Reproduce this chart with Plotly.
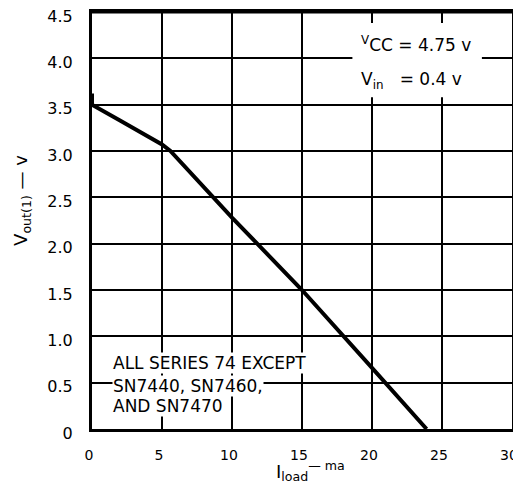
import plotly.graph_objects as go

# Data
i_load = [0, 0, 2, 4, 5, 5.6, 7, 8.6, 10, 11.8, 15, 20, 23.9]
v_out = [3.62, 3.5, 3.33, 3.16, 3.07, 3.0, 2.77, 2.5, 2.28, 2.0, 1.5, 0.66, 0]

x_ticks = [0, 5, 10, 15, 20, 25, 30]
y_ticks = [0, 0.5, 1.0, 1.5, 2.0, 2.5, 3.0, 3.5, 4.0, 4.5]
y_ticktext = ["0", "0.5", "1.0", "1.5", "2.0", "2.5", "3.0", "3.5", "4.0", "4.5"]

note_lines = ["ALL SERIES 74 EXCEPT", "SN7440, SN7460,", "AND SN7470"]

FONT = "DejaVu Sans"

fig = go.Figure()
fig.add_trace(go.Scatter(
    x=i_load, y=v_out, mode="lines",
    line=dict(color="black", width=4),
    cliponaxis=False, showlegend=False, hoverinfo="skip",
))

fig.update_xaxes(
    range=[0, 30], tickvals=x_ticks, showgrid=True, gridcolor="black", gridwidth=1.5,
    zeroline=False, showline=True, linecolor="black", linewidth=3, mirror=True,
    ticks="", ticklabelstandoff=11, ticklabelshift=-3, automargin=False,
    ticklabeloverflow="allow",
    tickfont=dict(family=FONT, size=14, color="black"),
)
fig.update_yaxes(
    range=[0, 4.5], tickvals=y_ticks, ticktext=y_ticktext, showgrid=True,
    gridcolor="black", gridwidth=1.5, zeroline=False,
    showline=True, linecolor="black", linewidth=3, mirror=True, ticks="",
    ticklabelstandoff=13, ticklabelshift=4, automargin=False, ticklabeloverflow="allow",
    tickfont=dict(family=FONT, size=16, color="black"),
)

shapes = [
    # top edge of the frame
    dict(type="line", xref="paper", yref="paper", x0=0, x1=1, y0=1, y1=1,
         line=dict(color="black", width=3), layer="above"),
    # white panel behind the conditions text
    dict(type="rect", xref="x", yref="y", x0=18.6, x1=27.85, y0=3.58, y1=4.38,
         fillcolor="white", line=dict(width=0), layer="above"),
]

annotations = [
    dict(x=19.1, y=4.16, xref="x", yref="y", xanchor="left", yanchor="middle",
         text="<sup>V</sup>CC = 4.75 v", showarrow=False,
         font=dict(family=FONT, size=17, color="black")),
    dict(x=19.1, y=3.76, xref="x", yref="y", xanchor="left", yanchor="middle",
         text="V<sub>in</sub>&nbsp;&nbsp;&nbsp;= 0.4 v", showarrow=False,
         font=dict(family=FONT, size=17, color="black")),
]
for txt, yv in zip(note_lines, [0.71, 0.46, 0.25]):
    annotations.append(dict(
        x=1.4, y=yv, xref="x", yref="y", xanchor="left", yanchor="middle",
        text=txt, showarrow=False, bgcolor="white", borderpad=0,
        font=dict(family=FONT, size=17, color="black")))

annotations.append(dict(
    x=-0.167, y=0.549, xref="paper", yref="paper", xanchor="center", yanchor="middle",
    text="V<sub>out(1)</sub> — v", textangle=-90, showarrow=False,
    font=dict(family=FONT, size=18, color="black")))
annotations.append(dict(
    x=0.521, y=-0.1, xref="paper", yref="paper", xanchor="center", yanchor="middle",
    text="I<sub>load</sub><sup>— ma</sup>", showarrow=False,
    font=dict(family=FONT, size=18, color="black")))

# The page body adds an 8px offset; size the figure so the plot area lands
# at x 92..512, y 12..429 of the 521x490 window.
fig.update_layout(
    width=513, height=482,
    margin=dict(l=84, r=9, t=4, b=61),
    plot_bgcolor="white", paper_bgcolor="white",
    shapes=shapes, annotations=annotations,
)

fig.write_html("out.html")
